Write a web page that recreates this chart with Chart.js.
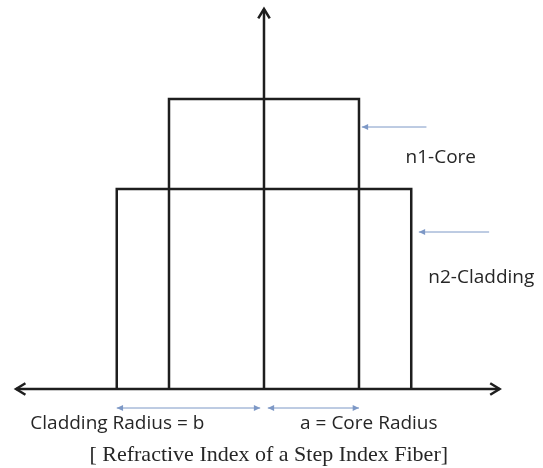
<!DOCTYPE html>
<html>
<head>
<meta charset="utf-8">
<script src="https://cdn.jsdelivr.net/npm/chart.js@4"></script>
<style>
  html, body { margin: 0; padding: 0; background: #fff; }
  #wrap { width: 543px; height: 468px; }
</style>
</head>
<body>
<div id="wrap"><canvas id="c"></canvas></div>
<script>
// radius in units of core radius a, height = refractive index (arbitrary units)
const coreRadius = 1.0;
const claddingRadius = 1.55;
const nCore = 2.9;
const nCladding = 2.0;

// profile outlines
const coreX = [-coreRadius, -coreRadius, coreRadius, coreRadius];
const coreY = [0, nCore, nCore, 0];
const cladX = [-claddingRadius, -claddingRadius, claddingRadius, claddingRadius];
const cladY = [0, nCladding, nCladding, 0];

// axes
const hAxisX = [-2.61, 2.48];
const vAxisY = [0, 3.8];

// blue pointers / dimension arrows
const dimY = -0.19;
const pointer1 = { x: [1.71, 1.03], y: [2.62, 2.62] };
const pointer2 = { x: [2.37, 1.63], y: [1.57, 1.57] };

// labels
const labels = [
  { text: 'n1-Core', x: 1.49, y: 2.31, align: 'left', font: 'sans' },
  { text: 'n2-Cladding', x: 1.73, y: 1.11, align: 'left', font: 'sans' },
  { text: 'Cladding Radius = b', x: -2.46, y: -0.35, align: 'left', font: 'sans' },
  { text: 'a = Core Radius', x: 0.38, y: -0.35, align: 'left', font: 'sans' },
  { text: '[ Refractive Index of a Step Index Fiber]', x: 0.05, y: -0.665, align: 'center', font: 'serif' }
];

const toPts = (xs, ys) => xs.map((x, i) => ({ x: x, y: ys[i] }));
const ink = '#1e1e1e';
const blue = '#7d98c6';

function line(pts, color, width, arrows, head) {
  return {
    data: pts, showLine: true, borderColor: color, borderWidth: width,
    pointRadius: 0, fill: false, tension: 0, clip: false,
    arrows: arrows || null, head: head || null
  };
}

const arrowPlugin = {
  id: 'arrows',
  afterDatasetsDraw(chart) {
    const ctx = chart.ctx;
    chart.data.datasets.forEach((ds, i) => {
      if (!ds.arrows) return;
      const pts = chart.getDatasetMeta(i).data;
      const ends = [];
      if (ds.arrows === 'start' || ds.arrows === 'both') ends.push([pts[0], pts[1]]);
      if (ds.arrows === 'end' || ds.arrows === 'both') ends.push([pts[pts.length - 1], pts[pts.length - 2]]);
      ends.forEach(([tip, from]) => {
        const ang = Math.atan2(tip.y - from.y, tip.x - from.x);
        const len = ds.head === 'open' ? 11 : 7;
        const spread = ds.head === 'open' ? 0.55 : 0.45;
        ctx.save();
        ctx.strokeStyle = ds.borderColor;
        ctx.fillStyle = ds.borderColor;
        ctx.lineWidth = ds.borderWidth;
        ctx.beginPath();
        ctx.moveTo(tip.x - len * Math.cos(ang - spread), tip.y - len * Math.sin(ang - spread));
        ctx.lineTo(tip.x, tip.y);
        ctx.lineTo(tip.x - len * Math.cos(ang + spread), tip.y - len * Math.sin(ang + spread));
        if (ds.head === 'open') ctx.stroke();
        else { ctx.closePath(); ctx.fill(); }
        ctx.restore();
      });
    });
  }
};

const labelPlugin = {
  id: 'labels',
  afterDraw(chart) {
    const ctx = chart.ctx;
    const xs = chart.scales.x, ys = chart.scales.y;
    labels.forEach(l => {
      ctx.save();
      ctx.fillStyle = '#262626';
      ctx.font = l.font === 'serif' ? '22px "Liberation Serif"' : '19px "Open Sans"';
      ctx.textAlign = l.align;
      ctx.textBaseline = 'middle';
      ctx.fillText(l.text, xs.getPixelForValue(l.x), ys.getPixelForValue(l.y));
      ctx.restore();
    });
  }
};

new Chart(document.getElementById('c'), {
  type: 'scatter',
  data: {
    datasets: [
      line(toPts(cladX, cladY), ink, 2.5),
      line(toPts(coreX, coreY), ink, 2.5),
      line(toPts(hAxisX, [0, 0]), ink, 2.5, 'both', 'open'),
      line(toPts([0, 0], vAxisY), ink, 2.5, 'end', 'open'),
      line(toPts([-claddingRadius, -0.04], [dimY, dimY]), blue, 1, 'both', 'fill'),
      line(toPts([0.04, coreRadius], [dimY, dimY]), blue, 1, 'both', 'fill'),
      line(toPts(pointer1.x, pointer1.y), blue, 1, 'end', 'fill'),
      line(toPts(pointer2.x, pointer2.y), blue, 1, 'end', 'fill')
    ]
  },
  options: {
    responsive: true,
    maintainAspectRatio: false,
    animation: false,
    layout: { padding: 0 },
    plugins: { legend: { display: false }, tooltip: { enabled: false }, title: { display: false } },
    scales: {
      x: { type: 'linear', display: false, min: -2.779, max: 2.937 },
      y: { type: 'linear', display: false, min: -0.79, max: 3.89 }
    }
  },
  plugins: [arrowPlugin, labelPlugin]
});
</script>
</body>
</html>
